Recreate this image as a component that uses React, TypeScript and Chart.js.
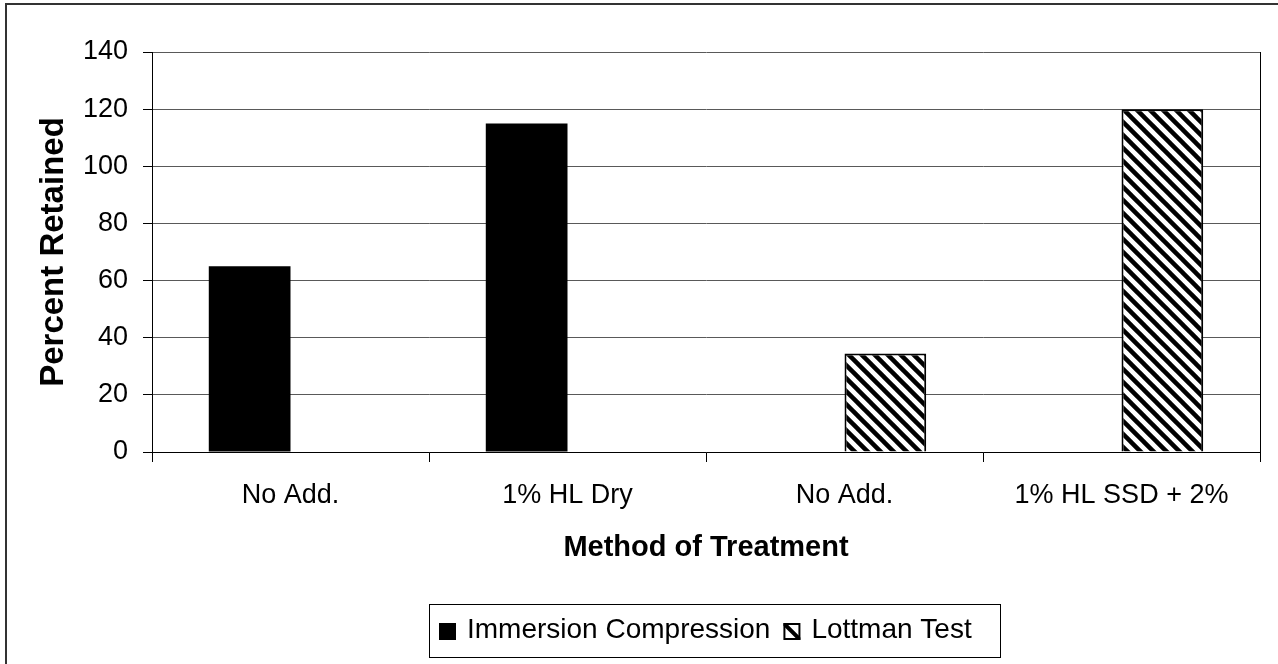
import { useEffect, useRef } from 'react';
import { Chart, registerables } from 'chart.js';

Chart.register(...registerables);

const categories = ['No Add.', '1% HL Dry', 'No Add.', '1% HL SSD + 2%'];
const immersionValues = [65, 115, null, null];
const lottmanValues = [null, null, 34.5, 120];
const seriesNames = ['Immersion Compression', 'Lottman Test'];
const yMin = 0;
const yMax = 140;
const yStep = 20;

const FONT = '"Liberation Sans", Arial, Helvetica, sans-serif';
const WIDTH = 1278;
const HEIGHT = 664;

// Diagonal "\" stripes used for the Lottman Test bars
function makeHatch(size: number, stroke: number): CanvasPattern | string {
  const c = document.createElement('canvas');
  c.width = size;
  c.height = size;
  const g = c.getContext('2d');
  if (!g) return '#888';
  g.fillStyle = '#fff';
  g.fillRect(0, 0, size, size);
  g.strokeStyle = '#000';
  g.lineWidth = stroke;
  for (const k of [-size, 0, size]) {
    g.beginPath();
    g.moveTo(k - 2, -2);
    g.lineTo(k + size + 2, size + 2);
    g.stroke();
  }
  return g.createPattern(c, 'repeat') || '#888';
}

// Outer frame of the chart object (only its top and left edges fall on the canvas)
const framePlugin = {
  id: 'frame',
  beforeDraw(chart: any) {
    const ctx = chart.ctx;
    ctx.save();
    ctx.fillStyle = '#fff';
    ctx.fillRect(0, 0, chart.width, chart.height);
    ctx.strokeStyle = '#333';
    ctx.lineWidth = 2;
    ctx.beginPath();
    ctx.moveTo(6, chart.height);
    ctx.lineTo(6, 4);
    ctx.lineTo(chart.width, 4);
    ctx.stroke();
    ctx.restore();
  },
};

// Right edge of the plot area
const plotEdgePlugin = {
  id: 'plotEdge',
  afterDatasetsDraw(chart: any) {
    const { ctx, chartArea } = chart;
    const x = Math.round(chartArea.right) + 0.5;
    ctx.save();
    ctx.strokeStyle = '#000';
    ctx.lineWidth = 1;
    ctx.beginPath();
    ctx.moveTo(x, chartArea.top);
    ctx.lineTo(x, chartArea.bottom);
    ctx.stroke();
    ctx.restore();
  },
};

// Boxed legend below the axis title
const boxLegendPlugin = {
  id: 'boxLegend',
  afterDraw(chart: any) {
    const { ctx, chartArea } = chart;
    const datasets = chart.data.datasets;
    ctx.save();
    ctx.font = `28px ${FONT}`;
    ctx.textBaseline = 'middle';
    ctx.textAlign = 'left';
    const icon = 17;
    const padLeft = 10;
    const padRight = 28;
    const gapText = 11;
    const gapItem = 13;
    const widths = datasets.map((d: any) => ctx.measureText(d.label).width);
    let total = padLeft + padRight;
    widths.forEach((w: number, i: number) => {
      total += icon + gapText + w + (i > 0 ? gapItem : 0);
    });
    const boxH = 53;
    const boxTop = chart.height - 7 - boxH;
    const cx = (chartArea.left + chartArea.right) / 2 + 8;
    const boxLeft = Math.round(cx - total / 2);
    ctx.strokeStyle = '#000';
    ctx.lineWidth = 1;
    ctx.strokeRect(boxLeft + 0.5, boxTop + 0.5, Math.round(total), boxH);
    const midY = boxTop + boxH / 2;
    let x = boxLeft + padLeft;
    datasets.forEach((d: any, i: number) => {
      if (i > 0) x += gapItem;
      const iy = Math.round(midY - icon / 2 + 1);
      if (i === 0) {
        ctx.fillStyle = d.backgroundColor;
        ctx.fillRect(x, iy, icon, icon);
      } else {
        ctx.fillStyle = '#fff';
        ctx.fillRect(x, iy, icon, icon);
        ctx.save();
        ctx.beginPath();
        ctx.rect(x, iy, icon, icon);
        ctx.clip();
        ctx.strokeStyle = '#000';
        ctx.lineWidth = 4;
        ctx.beginPath();
        ctx.moveTo(x, iy);
        ctx.lineTo(x + icon, iy + icon);
        ctx.stroke();
        ctx.restore();
        ctx.strokeStyle = '#000';
        ctx.lineWidth = 2;
        ctx.strokeRect(x + 1, iy + 1, icon - 2, icon - 2);
      }
      x += icon + gapText;
      ctx.fillStyle = '#000';
      ctx.fillText(d.label, x, midY);
      x += widths[i];
    });
    ctx.restore();
  },
};

export default function App() {
  const canvasRef = useRef<HTMLCanvasElement | null>(null);

  useEffect(() => {
    document.body.style.margin = '0';
    const canvas = canvasRef.current;
    if (!canvas) return;
    const hatch = makeHatch(13, 4.5);

    const chart = new Chart(canvas, {
      type: 'bar',
      data: {
        labels: categories,
        datasets: [
          {
            label: seriesNames[0],
            data: immersionValues,
            backgroundColor: '#000',
            borderWidth: 0,
          },
          {
            label: seriesNames[1],
            data: lottmanValues,
            backgroundColor: hatch as any,
            borderColor: '#000',
            borderWidth: 2,
          },
        ],
      },
      options: {
        responsive: false,
        animation: false,
        devicePixelRatio: 1,
        datasets: {
          bar: {
            barPercentage: 1,
            categoryPercentage: 0.59,
          },
        },
        layout: {
          padding: { left: 0, right: 18, top: 52, bottom: 92 },
        },
        plugins: {
          legend: { display: false },
          tooltip: { enabled: false },
        },
        scales: {
          x: {
            grid: {
              drawOnChartArea: false,
              drawTicks: true,
              tickLength: 10,
              tickColor: '#000',
              offset: true,
            },
            border: { display: true, color: '#000', width: 1 },
            ticks: {
              color: '#000',
              padding: 17,
              font: { family: FONT, size: 27 },
              maxRotation: 0,
              autoSkip: false,
            },
            title: {
              display: true,
              text: 'Method of Treatment',
              color: '#000',
              font: { family: FONT, size: 29, weight: 'bold' },
              padding: { top: 0, bottom: 7 },
            },
            afterFit(scale: any) {
              scale.height = 120;
            },
          },
          y: {
            min: yMin,
            max: yMax,
            ticks: {
              stepSize: yStep,
              color: '#000',
              padding: 15,
              font: { family: FONT, size: 27 },
            },
            grid: {
              color: '#595959',
              tickColor: '#000',
              tickLength: 9,
              lineWidth: 1,
            },
            border: { display: true, color: '#000', width: 1 },
            title: {
              display: true,
              text: 'Percent Retained',
              color: '#000',
              font: { family: FONT, size: 33, weight: 'bold' },
              padding: { top: 34, bottom: 0 },
            },
            afterFit(scale: any) {
              scale.width = 152;
            },
          },
        },
      },
      plugins: [framePlugin, plotEdgePlugin, boxLegendPlugin],
    });

    return () => {
      chart.destroy();
    };
  }, []);

  return (
    <div style={{ width: WIDTH, height: HEIGHT, overflow: 'hidden' }}>
      <canvas ref={canvasRef} width={WIDTH} height={HEIGHT} style={{ display: 'block' }} />
    </div>
  );
}
